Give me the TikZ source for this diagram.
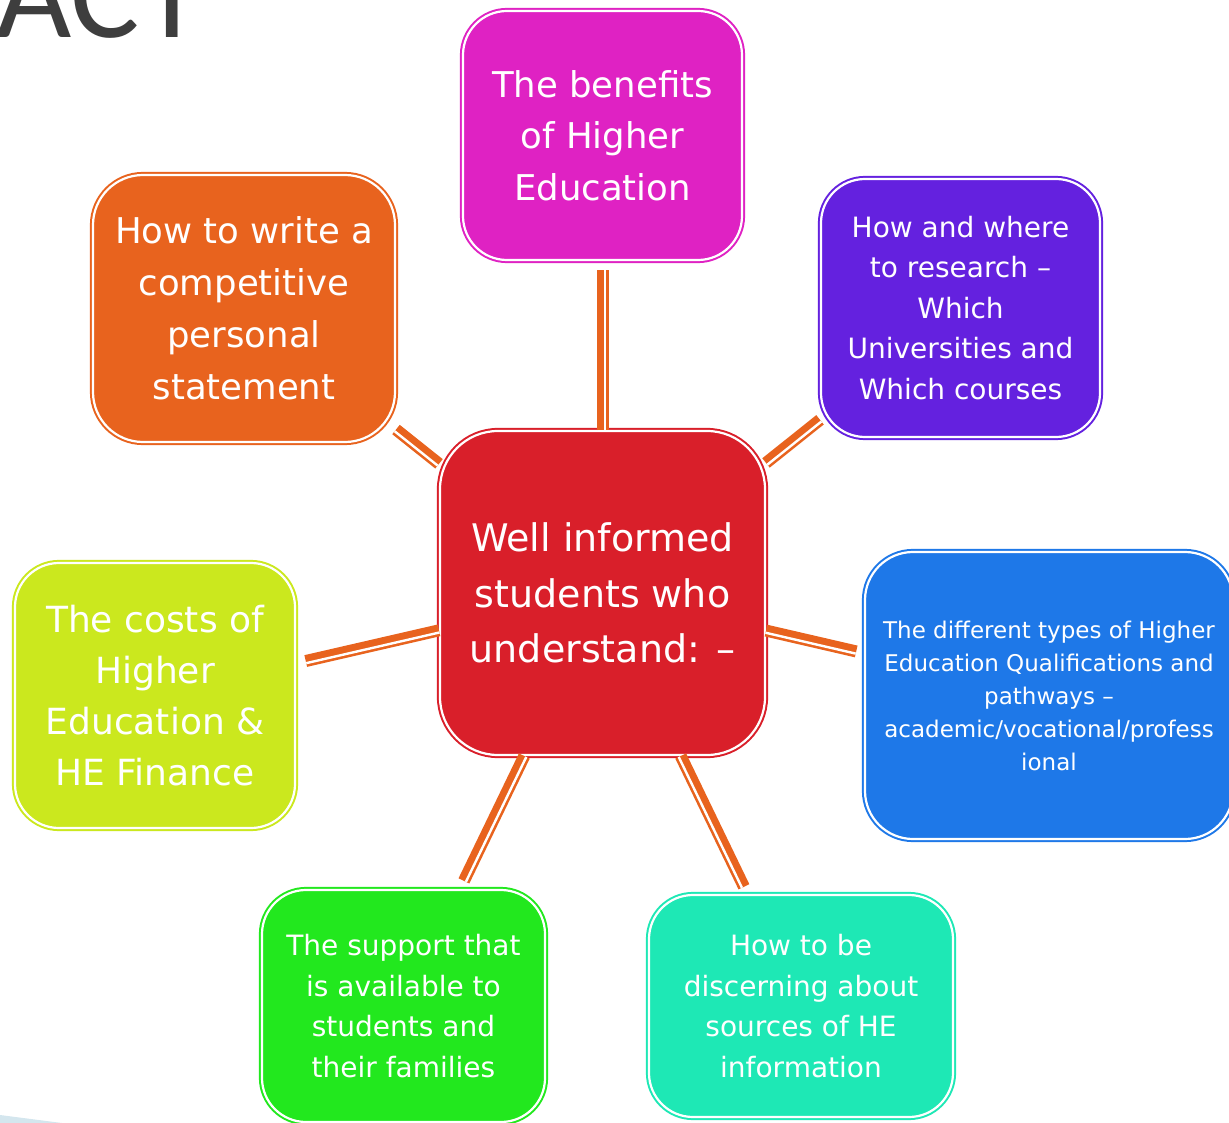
\documentclass[tikz,border=0pt]{standalone}
\usepackage{fontspec}
\setmainfont{DejaVu Sans}
\newfontfamily\titlefont{Carlito}
\usetikzlibrary{calc}
\definecolor{cMag}{HTML}{DF22C3}
\definecolor{cOra}{HTML}{E8631E}
\definecolor{cPur}{HTML}{6421DF}
\definecolor{cRed}{HTML}{D91F2A}
\definecolor{cLim}{HTML}{CBE81E}
\definecolor{cBlu}{HTML}{1E78E8}
\definecolor{cGrn}{HTML}{22E81E}
\definecolor{cTea}{HTML}{1EE8B5}
\definecolor{cCon}{HTML}{E8631E}
\definecolor{cTitle}{HTML}{3E3E3E}
\definecolor{cSliver}{HTML}{D4E6EE}
% connector: thick line with a thin companion on the right-hand side
\newcommand\hconn[4]{%
  \path (#1) -- (#2) coordinate[pos=0] (#1#2p) coordinate[pos=1] (#1#2q);
  \coordinate (#1#2a) at ($(#1#2p)!#3!(#1#2q)$);
  \coordinate (#1#2b) at ($(#1#2q)!#4!(#1#2p)$);
  \draw[conn] (#1#2a) -- (#1#2b);
  \draw[conngap] ($(#1#2a)!2.2pt!-90:(#1#2b)$) -- ($(#1#2b)!2.2pt!90:(#1#2a)$);
}
\begin{document}
\begin{tikzpicture}[x=1pt,y=-1pt,
  box/.style={rectangle, draw=#1, fill=#1, double=white, double distance=2.2pt,
    line width=2pt, rounded corners=44pt, inner sep=0pt, text=white, align=center},
  conn/.style={draw=cCon, line width=12pt},
  conngap/.style={draw=white, line width=2.4pt}
]
\useasboundingbox (0,0) rectangle (1229,1123);
\fill[cSliver] (0,1115) -- (62,1123) -- (0,1123) -- cycle;
\node[anchor=base west, inner sep=0pt, text=cTitle,
  font=\titlefont\fontsize{130}{130}\selectfont] (title) at (-4,38) {ACT};

\node[box=cMag, minimum width=279pt, minimum height=249pt,
  font=\fontsize{35.5}{51.5}\selectfont] (T) at (602.5,135.5)
  {The benefits\\of Higher\\Education};
\node[box=cOra, minimum width=302pt, minimum height=267pt, rounded corners=50pt,
  font=\fontsize{35.5}{52}\selectfont] (O) at (244,308.5)
  {How to write a\\competitive\\personal\\statement};
\node[box=cPur, minimum width=279pt, minimum height=258pt,
  font=\fontsize{28}{40.5}\selectfont] (P) at (960.5,308)
  {How and where\\to research –\\Which\\Universities and\\Which courses};
\node[box=cRed, rounded corners=58pt, minimum width=325pt, minimum height=324pt,
  font=\fontsize{38}{55.5}\selectfont] (C) at (602.5,593)
  {Well informed\\students who\\understand: –};
\node[box=cLim, minimum width=280pt, minimum height=265pt,
  font=\fontsize{36}{51}\selectfont] (L) at (155,695.5)
  {The costs of\\Higher\\Education \&\\HE Finance};
\node[box=cBlu, minimum width=368pt, minimum height=287pt, rounded corners=48pt,
  font=\fontsize{23}{33}\selectfont] (B) at (1049,695.5)
  {The different types of Higher\\Education Qualifications and\\pathways –\\academic/vocational/profess\\ional};
\node[box=cGrn, minimum width=283pt, minimum height=232pt,
  font=\fontsize{28}{40.5}\selectfont] (G) at (403.5,1006)
  {The support that\\is available to\\students and\\their families};
\node[box=cTea, minimum width=304pt, minimum height=222pt,
  font=\fontsize{28}{40.5}\selectfont] (Q) at (801,1006)
  {How to be\\discerning about\\sources of HE\\information};

\hconn{C}{T}{0pt}{9pt}
\hconn{O}{C}{0pt}{0pt}
\hconn{C}{P}{0pt}{0pt}
\hconn{L}{C}{10pt}{0pt}
\hconn{C}{B}{0pt}{8pt}
\hconn{G}{C}{9pt}{0pt}
\hconn{C}{Q}{0pt}{8pt}
\end{tikzpicture}
\end{document}
